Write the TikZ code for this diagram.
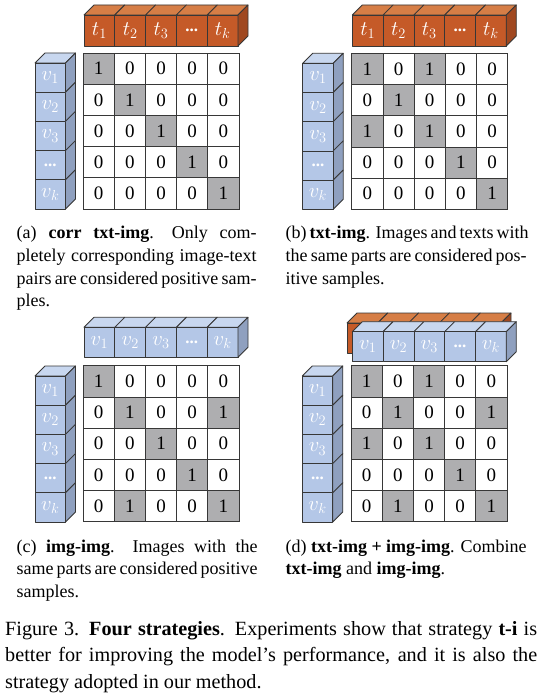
\documentclass[tikz,border=0pt]{standalone}
\usepackage{fontspec}
\setmainfont{Liberation Serif}
\definecolor{edgecol}{RGB}{55,55,55}
\definecolor{cellgray}{RGB}{174,174,176}
\definecolor{orF}{RGB}{197,90,40}
\definecolor{orT}{RGB}{214,126,70}
\definecolor{orS}{RGB}{160,72,32}
\definecolor{blF}{RGB}{180,199,231}
\definecolor{blT}{RGB}{200,215,239}
\definecolor{blS}{RGB}{143,160,191}
\tikzset{
  edge/.style={draw=edgecol,line width=0.8pt,line join=round},
  lab/.style={text=white,inner sep=0pt,font=\fontsize{21}{21}\selectfont},
  cell/.style={draw=edgecol,line width=0.8pt,minimum size=31.2pt,inner sep=0pt,font=\fontsize{19}{19}\selectfont},
  capt/.style={inner sep=0pt,font=\fontsize{18}{18}\selectfont},
  maincapt/.style={inner sep=0pt,font=\fontsize{20.2}{20.2}\selectfont}
}
\newcommand{\dotlab}{{\fontsize{17}{17}\selectfont\bfseries...}}
% horizontal row of cubes: #1 x0, #2 y0, #3 height, #4 front, #5 top, #6 side, #7 prefix, #8 labels
\newcommand{\hcubes}[8]{%
  \foreach \lab [count=\i from 0] in {#8} {
    \pgfmathsetmacro\xa{#1+\i*30.8}
    \pgfmathsetmacro\xb{\xa+30.8}
    \filldraw[fill=#5,edge] (\xa,#2) -- (\xa+10,#2-10) -- (\xb+10,#2-10) -- (\xb,#2) -- cycle;
    \filldraw[fill=#4,edge] (\xa,#2) rectangle (\xb,#2+#3);
    \node[lab] (#7\i) at ({(\xa+\xb)/2},{#2+#3/2}) {\lab};
  }
  \pgfmathsetmacro\xe{#1+5*30.8}
  \filldraw[fill=#6,edge] (\xe,#2) -- (\xe+10,#2-10) -- (\xe+10,#2+#3-10) -- (\xe,#2+#3) -- cycle;
}
% vertical column of cubes: #1 x0, #2 y0, #3 prefix
\newcommand{\vcubes}[3]{%
  \filldraw[fill=blT,edge] (#1,#2) -- (#1+10,#2-10) -- (#1+40.5,#2-10) -- (#1+30.5,#2) -- cycle;
  \foreach \lab [count=\j from 0] in {$v_1$,$v_2$,$v_3$,\dotlab,$v_k$} {
    \pgfmathsetmacro\ya{#2+\j*29.2}
    \pgfmathsetmacro\yb{\ya+29.2}
    \filldraw[fill=blS,edge] (#1+30.5,\ya) -- (#1+40.5,\ya-10) -- (#1+40.5,\yb-10) -- (#1+30.5,\yb) -- cycle;
    \filldraw[fill=blF,edge] (#1,\ya) rectangle (#1+30.5,\yb);
    \node[lab] (#3\j) at ({#1+15.25},{(\ya+\yb)/2}) {\lab};
  }
}
% matrix: #1 x0, #2 y0, #3 prefix, #4 rows
\newcommand{\mat}[4]{%
  \foreach \row [count=\r from 0] in {#4} {
    \foreach \v [count=\c from 0] in \row {
      \def\cf{white}\ifnum\v=1 \def\cf{cellgray}\fi
      \node[cell,fill=\cf] (#3-\r-\c) at ({#1+(\c+0.5)*31.2},{#2+(\r+0.5)*31.2}) {\v};
    }
  }
}
\newcommand{\jline}[5]{\node[capt,anchor=base west] (#1) at (#2,#3) {\makebox[#4pt][s]{#5}};}
\newcommand{\lline}[4]{\node[capt,anchor=base west] (#1) at (#2,#3) {#4};}
\begin{document}
\begin{tikzpicture}[x=1pt,y=-1pt]
\useasboundingbox[fill=white] (0,0) rectangle (540,693);
% ---------- (a)
\hcubes{84}{15}{31}{orF}{orT}{orS}{at}{$t_1$,$t_2$,$t_3$,\dotlab,$t_k$}
\vcubes{35}{63}{av}
\mat{83}{53}{am}{{1,0,0,0,0},{0,1,0,0,0},{0,0,1,0,0},{0,0,0,1,0},{0,0,0,0,1}}
% ---------- (b)
\hcubes{352.3}{15}{31}{orF}{orT}{orS}{bt}{$t_1$,$t_2$,$t_3$,\dotlab,$t_k$}
\vcubes{302.7}{63.3}{bv}
\mat{351.7}{53.3}{bm}{{1,0,1,0,0},{0,1,0,0,0},{1,0,1,0,0},{0,0,0,1,0},{0,0,0,0,1}}
% ---------- (c)
\hcubes{84}{327.3}{30}{blF}{blT}{blS}{ct}{$v_1$,$v_2$,$v_3$,\dotlab,$v_k$}
\vcubes{35}{376}{cv}
\mat{83}{365.7}{cm}{{1,0,0,0,0},{0,1,0,0,1},{0,0,1,0,0},{0,0,0,1,0},{0,1,0,0,1}}
% ---------- (d)
\hcubes{347}{323}{30}{orF}{orT}{orS}{dto}{{},{},{},{},{}}
\hcubes{352.3}{331.7}{30}{blF}{blT}{blS}{dt}{$v_1$,$v_2$,$v_3$,\dotlab,$v_k$}
\vcubes{302.3}{376}{dv}
\mat{351}{365.7}{dm}{{1,0,1,0,0},{0,1,0,0,1},{1,0,1,0,0},{0,0,0,1,0},{0,1,0,0,1}}
% ---------- captions
\jline{ca1}{16.5}{238.5}{240}{(a) \textbf{corr txt-img}.\quad Only com-}
\jline{ca2}{16.5}{261.3}{240}{pletely corresponding image-text}
\jline{ca3}{16.5}{284}{240}{pairs are considered positive sam-}
\lline{ca4}{16.5}{306.8}{ples.}
\jline{cb1}{285.5}{238.5}{241}{(b) \textbf{txt-img}. Images and texts with}
\jline{cb2}{285.5}{261.3}{241}{the same parts are considered pos-}
\lline{cb3}{285.5}{284}{itive samples.}
\jline{cc1}{16.5}{552}{241}{(c) \textbf{img-img}.\quad Images with the}
\jline{cc2}{16.5}{574.5}{241}{same parts are considered positive}
\lline{cc3}{16.5}{597}{samples.}
\jline{cd1}{285.5}{552}{241}{(d) \textbf{txt-img + img-img}. Combine}
\lline{cd2}{285.5}{574.5}{\textbf{txt-img} and \textbf{img-img}.}
\node[maincapt,anchor=base west] (fc1) at (5,635) {\makebox[532pt][s]{Figure 3. \textbf{Four strategies}. Experiments show that strategy \textbf{t-i} is}};
\node[maincapt,anchor=base west] (fc2) at (5,661.5) {\makebox[532pt][s]{better for improving the model’s performance, and it is also the}};
\node[maincapt,anchor=base west] (fc3) at (5,688) {strategy adopted in our method.};
\end{tikzpicture}
\end{document}
